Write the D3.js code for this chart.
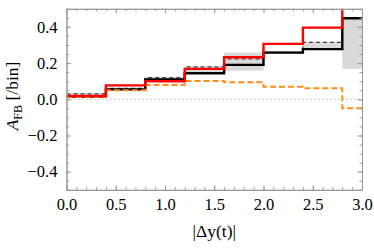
<!DOCTYPE html>
<html lang="en">
<head>
<meta charset="UTF-8">
<title>AFB vs |Δy(t)|</title>
<style>
  body { margin: 0; background: #fff; }
</style>
</head>
<body>
<svg id="chart" width="374" height="249"></svg>
<script src="https://cdn.jsdelivr.net/npm/d3@7"></script>
<script>
// bin edges in |Δy(t)|
const binEdges = [0, 0.4, 0.8, 1.2, 1.6, 2.0, 2.4, 2.8, 3.0];
// A_FB per bin
const redVals    = [0.018, 0.077, 0.100, 0.168, 0.232, 0.306, 0.396, 0.560];
const blackVals  = [0.015, 0.055, 0.110, 0.144, 0.190, 0.258, 0.277, 0.448];
const dashVals   = [0.030, 0.060, 0.120, 0.179, 0.223, 0.260, 0.315, 0.450];
const orangeVals = [0.013, 0.050, 0.079, 0.101, 0.094, 0.070, 0.061, -0.050];
const bandLo     = [0.010, 0.048, 0.105, 0.140, 0.158, 0.252, 0.272, 0.168];
const bandHi     = [0.034, 0.064, 0.124, 0.182, 0.258, 0.266, 0.318, 0.443];
const xTicks = [0, 0.5, 1.0, 1.5, 2.0, 2.5, 3.0];
const yTicks = [-0.4, -0.2, 0.0, 0.2, 0.4];

const font = "Liberation Serif, DejaVu Serif, serif";
const margin = {top: 8.8, right: 12, bottom: 59.2, left: 66.5};
const width = 374, height = 249;
const svg = d3.select("#chart");

const x = d3.scaleLinear().domain([0, 3]).range([margin.left, width - margin.right]);
const y = d3.scaleLinear().domain([-0.5, 0.5]).range([height - margin.bottom, margin.top]);

svg.append("defs").append("clipPath").attr("id", "plot")
  .append("rect")
  .attr("x", x(0)).attr("y", y(0.5))
  .attr("width", x(3) - x(0)).attr("height", y(-0.5) - y(0.5));

const plot = svg.append("g").attr("clip-path", "url(#plot)");

// uncertainty band
plot.selectAll("rect.band")
  .data(d3.range(binEdges.length - 1))
  .join("rect")
  .attr("class", "band")
  .attr("x", i => x(binEdges[i]))
  .attr("width", i => x(binEdges[i + 1]) - x(binEdges[i]))
  .attr("y", i => y(bandHi[i]))
  .attr("height", i => y(bandLo[i]) - y(bandHi[i]))
  .attr("fill", "#d9d9d9");

// zero reference
plot.append("line")
  .attr("x1", x(0)).attr("x2", x(3))
  .attr("y1", y(0)).attr("y2", y(0))
  .attr("stroke", "#999").attr("stroke-width", 1)
  .attr("stroke-dasharray", "1,3");

const step = d3.line()
  .x(d => x(d[0]))
  .y(d => y(d[1]))
  .curve(d3.curveStepAfter);

function stepPts(vals) {
  const pts = vals.map((v, i) => [binEdges[i], v]);
  pts.push([binEdges[binEdges.length - 1], vals[vals.length - 1]]);
  return pts;
}

plot.append("path").datum(stepPts(dashVals))
  .attr("d", step).attr("fill", "none")
  .attr("stroke", "#444").attr("stroke-width", 1.2)
  .attr("stroke-dasharray", "4,3");

plot.append("path").datum(stepPts(blackVals))
  .attr("d", step).attr("fill", "none")
  .attr("stroke", "#000").attr("stroke-width", 2.4);

plot.append("path").datum(stepPts(orangeVals))
  .attr("d", step).attr("fill", "none")
  .attr("stroke", "#ff8c1a").attr("stroke-width", 2)
  .attr("stroke-dasharray", "6,3");

plot.append("path").datum(stepPts(redVals))
  .attr("d", step).attr("fill", "none")
  .attr("stroke", "#ff0000").attr("stroke-width", 2.4);

// frame with inward ticks on all sides
const frameColor = "#999";
const xMinor = d3.range(0, 3.001, 0.1);
const yMinor = d3.range(-0.5, 0.5001, 0.05);

function styleAxis(g) {
  g.attr("font-family", font).attr("font-size", 16.5);
  g.select(".domain").attr("stroke", frameColor);
  g.selectAll(".tick line").attr("stroke", frameColor);
  g.selectAll(".tick text").attr("fill", "#000");
}

const gx = (axisFn, ticks, size, fmt) => axisFn(x).tickValues(ticks).tickSizeInner(-size).tickSizeOuter(0).tickPadding(size + 4).tickFormat(fmt);
const gy = (axisFn, ticks, size, fmt) => axisFn(y).tickValues(ticks).tickSizeInner(-size).tickSizeOuter(0).tickPadding(size + 4.5).tickFormat(fmt);

const noLabel = () => "";
const b = height - margin.bottom, t = margin.top, l = margin.left, r = width - margin.right;

svg.append("g").attr("transform", `translate(0,${b})`).call(gx(d3.axisBottom, xMinor, 2.5, noLabel)).call(styleAxis);
svg.append("g").attr("transform", `translate(0,${b})`).call(gx(d3.axisBottom, xTicks, 4.5, d3.format(".1f"))).call(styleAxis);
svg.append("g").attr("transform", `translate(0,${t})`).call(gx(d3.axisTop, xMinor, 2.5, noLabel)).call(styleAxis);
svg.append("g").attr("transform", `translate(0,${t})`).call(gx(d3.axisTop, xTicks, 4.5, noLabel)).call(styleAxis);

svg.append("g").attr("transform", `translate(${l},0)`).call(gy(d3.axisLeft, yMinor, 2.5, noLabel)).call(styleAxis);
svg.append("g").attr("transform", `translate(${l},0)`).call(gy(d3.axisLeft, yTicks, 4.5, d => d3.format(".1f")(d).replace("-", "\u2212"))).call(styleAxis);
svg.append("g").attr("transform", `translate(${r},0)`).call(gy(d3.axisRight, yMinor, 2.5, noLabel)).call(styleAxis);
svg.append("g").attr("transform", `translate(${r},0)`).call(gy(d3.axisRight, yTicks, 4.5, noLabel)).call(styleAxis);

// axis titles
svg.append("text")
  .attr("x", (l + r) / 2).attr("y", 237)
  .attr("text-anchor", "middle").attr("font-size", 17.5)
  .attr("font-family", font)
  .text("|\u0394y(t)|");

const yl = svg.append("text")
  .attr("transform", `translate(18,96) rotate(-90)`)
  .attr("text-anchor", "middle").attr("font-size", 17.5)
  .attr("font-family", font);
yl.append("tspan").attr("font-style", "italic").text("A");
yl.append("tspan").attr("font-size", 12).attr("dy", 3.5).text("FB");
yl.append("tspan").attr("dy", -3.5).text(" [/bin]");
</script>
</body>
</html>
